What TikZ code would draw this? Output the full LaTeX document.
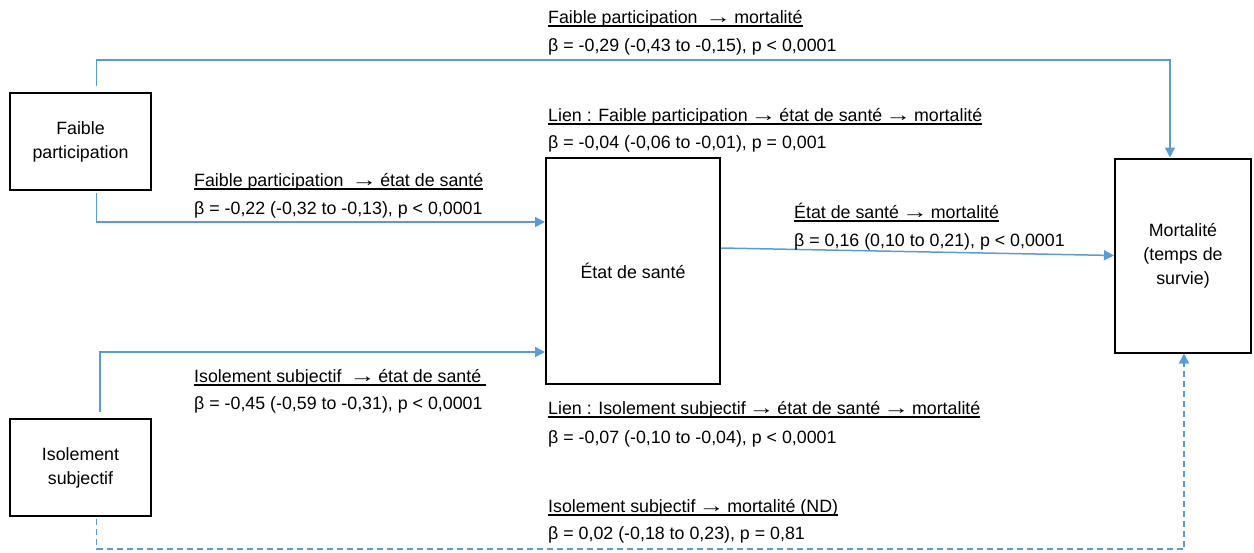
\documentclass[tikz,border=0pt]{standalone}
\usepackage{fontspec}
\setmainfont{Liberation Sans}
\usepackage{graphicx}
\usepackage{tikz}
\usetikzlibrary{arrows.meta, calc}
\definecolor{bleulien}{HTML}{5B9BD5}
\newcommand{\souligne}[1]{\vtop{\setbox0\hbox{#1}\dp0=0pt\box0\kern2.2pt\hrule height 1.5pt}}
\newcommand{\fl}{\kern-2pt\scalebox{1.45}[1.1]{→}\kern-2pt}

\begin{document}
\begin{tikzpicture}[
        x=1pt, y=-1pt,
        every node/.style={font=\fontsize{17.8}{24}\selectfont},
        boite/.style={draw, line width=2pt, align=center, inner sep=0pt},
        etiq/.style={anchor=base west, inner sep=0pt},
        lien/.style={bleulien, line width=1.5pt, -{Triangle[length=10pt, width=10pt]}},
      ]
      \useasboundingbox (0,0) rectangle (1254,552);

      % boites
      \node[boite, minimum width=141pt, minimum height=97pt] (fp) at (80.5,141.5) {Faible\\participation};
      \node[boite, minimum width=141pt, minimum height=97pt] (iso) at (80.5,467.5) {Isolement\\subjectif};
      \node[boite, minimum width=174pt, minimum height=226pt] (etat) at (633,271) {État de santé};
      \node[boite, minimum width=136pt, minimum height=194pt] (mort) at (1183,255.5) {Mortalité\\(temps de\\survie)};

      % liens
      \draw[lien, shorten <=6pt] ([xshift=16pt]fp.north) -- ++(0,-32) -| ([xshift=-13pt]mort.north);
      \draw[lien, shorten <=2pt] ([xshift=16pt]fp.south) |- ([yshift=49pt]etat.west);
      \draw[lien, shorten <=6pt] ([xshift=19.5pt]iso.north) |- ([yshift=-81pt]etat.west);
      \draw[lien] ([yshift=23pt]etat.east) -- (mort.west);
      \draw[lien, dash pattern=on 6pt off 4pt, shorten <=2pt] ([xshift=16pt]iso.south) -- ++(0,32) -| ([xshift=1pt]mort.south);

      % coefficients
      \node[etiq] (t1) at (548,23) {\souligne{Faible participation~ \fl{} mortalité}};
      \node[etiq] (c1) at (548,51) {β = -0,29 (-0,43 to -0,15), p < 0,0001};
      \node[etiq] (t2) at (548,121) {\souligne{Lien : Faible participation \fl{} état de santé \fl{} mortalité}};
      \node[etiq] (c2) at (548,148) {β = -0,04 (-0,06 to -0,01), p = 0,001};
      \node[etiq] (t3) at (194,186) {\souligne{Faible participation~ \fl{} état de santé}};
      \node[etiq] (c3) at (194,214) {β = -0,22 (-0,32 to -0,13), p < 0,0001};
      \node[etiq] (t4) at (794,218) {\souligne{État de santé \fl{} mortalité}};
      \node[etiq] (c4) at (794,246) {β = 0,16 (0,10 to 0,21), p < 0,0001};
      \node[etiq] (t5) at (194,382) {\souligne{Isolement subjectif~ \fl{} état de santé\ }};
      \node[etiq] (c5) at (194,409) {β = -0,45 (-0,59 to -0,31), p < 0,0001};
      \node[etiq] (t6) at (548,414) {\souligne{Lien : Isolement subjectif \fl{} état de santé \fl{} mortalité}};
      \node[etiq] (c6) at (548,443) {β = -0,07 (-0,10 to -0,04), p < 0,0001};
      \node[etiq] (t7) at (548,512) {\souligne{Isolement subjectif \fl{} mortalité (ND)}};
      \node[etiq] (c7) at (548,539) {β = 0,02 (-0,18 to 0,23), p = 0,81};
    \end{tikzpicture}
\end{document}
